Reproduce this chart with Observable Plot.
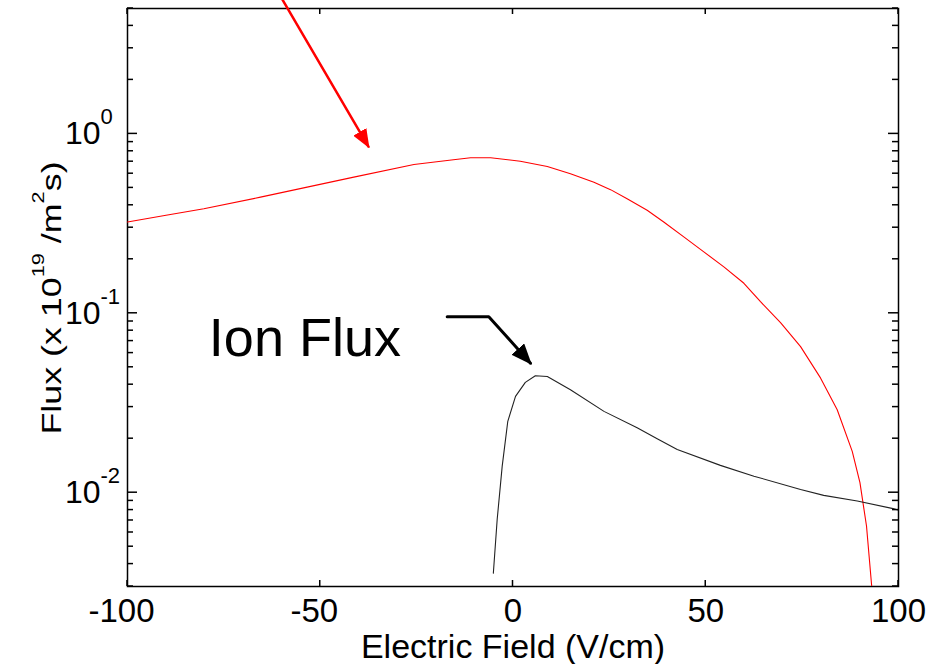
<!DOCTYPE html>
<html><head><meta charset="utf-8">
<script src="https://cdn.jsdelivr.net/npm/d3@7"></script>
<script src="https://cdn.jsdelivr.net/npm/@observablehq/plot@0.6"></script>
<style>html,body{margin:0;padding:0;background:#fff}#chart svg{display:block}</style>
</head><body><div id="chart"></div>
<script>
// Red curve (flux) vs electric field
const redField = [-100, -90, -80.2, -65.5, -53.4, -41.3, -25.7, -16, -11.0, -5.8, 1.9, 8.9, 14.9, 21.0, 25.3, 29.6, 34.8, 39.1, 44.3, 49.5, 54.7, 59.9, 64.2, 69.4, 74.6, 79.8, 84.1, 88.0, 90.0, 91.7, 93.0, 93.4];
const redFlux  = [0.323, 0.352, 0.383, 0.444, 0.505, 0.574, 0.675, 0.715, 0.736, 0.736, 0.704, 0.658, 0.600, 0.538, 0.489, 0.435, 0.375, 0.323, 0.2665, 0.220, 0.1815, 0.147, 0.116, 0.0887, 0.0652, 0.0435, 0.0290, 0.0170, 0.01137, 0.00652, 0.0031, 0.0025];
// Ion flux vs electric field
const ionField = [-5.1, -4.1, -2.8, -1.35, 0.65, 3.2, 5.8, 8.9, 14.9, 23.6, 32.2, 37.4, 42.6, 53.8, 62.5, 74.6, 80.6, 89.3, 98.6, 100];
const ionFlux  = [0.00356, 0.00711, 0.01406, 0.0250, 0.0344, 0.0412, 0.0449, 0.0444, 0.0375, 0.0284, 0.0230, 0.0200, 0.0174, 0.0142, 0.01236, 0.01043, 0.00966, 0.00898, 0.00815, 0.0080];
// Ticks
const xTicks = [-100, -50, 0, 50, 100];
const yMajor = [0.01, 0.1, 1];
const yMinor = [0.003, 0.004, 0.005, 0.006, 0.007, 0.008, 0.009, 0.02, 0.03, 0.04, 0.05, 0.06, 0.07, 0.08, 0.09, 0.2, 0.3, 0.4, 0.5, 0.6, 0.7, 0.8, 0.9, 2, 3, 4, 5];
// Annotations (data coordinates)
const redArrowX = [-61.1, -37.5];
const redArrowY = [6.25, 0.85];
const ionArrowX = [-17.07, -6.28, 4.54];
const ionArrowY = [0.0958, 0.0958, 0.0527];
const ionLabelX = [-78.9];
const ionLabelY = [0.0722];
const ionLabelText = ["Ion Flux"];
const xLabel = ["Electric Field (V/cm)"];

const red = redField.map((x, i) => ({x, y: redFlux[i]}));
const ion = ionField.map((x, i) => ({x, y: ionFlux[i]}));
const redArrow = redArrowX.map((x, i) => ({x, y: redArrowY[i]}));
const ionArrow = ionArrowX.map((x, i) => ({x, y: ionArrowY[i]}));
const ionLab = ionLabelX.map((x, i) => ({x, y: ionLabelY[i], text: ionLabelText[i]}));

const W = 929, H = 664, ML = 127, MR = 31, MT = 8, MB = 78;
const majorLen = 10, minorLen = 6, xLen = 6;

const svg = Plot.plot({
  width: W, height: H,
  marginLeft: ML, marginRight: MR, marginTop: MT, marginBottom: MB,
  style: {fontFamily: "'Liberation Sans', Arial, sans-serif", background: "white", color: "black"},
  x: {domain: [-100, 100], axis: null},
  y: {type: "log", domain: [0.003, 5], axis: null},
  marks: [
    Plot.frame({stroke: "black", fill: "none", strokeWidth: 1.5}),
    Plot.axisX(xTicks, {anchor: "bottom", tickSize: 0, tickPadding: 12, fontSize: 33, label: null, tickFormat: d => String(d)}),
    Plot.axisY(yMajor, {anchor: "left", tickSize: 0, tickPadding: 27, fontSize: 32, label: null,
      tickFormat: d => "10^" + Math.round(Math.log10(d))}),
    Plot.line(red, {x: "x", y: "y", stroke: "#ff0000", strokeWidth: 1.1, clip: true}),
    Plot.line(ion, {x: "x", y: "y", stroke: "#222", strokeWidth: 1.1, clip: true}),
    Plot.line(redArrow, {x: "x", y: "y", stroke: "#ff0000", strokeWidth: 2.5}),
    Plot.line(ionArrow, {x: "x", y: "y", stroke: "black", strokeWidth: 3, strokeLinejoin: "miter"}),
    Plot.text(ionLab, {x: "x", y: "y", text: "text", textAnchor: "start", lineAnchor: "middle", fontSize: 54, fill: "black"}),
    Plot.text(xLabel, {text: d => d, frameAnchor: "bottom", dy: 61, lineAnchor: "middle", fontSize: 34, fill: "black"})
  ]
});

const s = d3.select(svg);
const sx = svg.scale("x"), sy = svg.scale("y");
const frameTop = MT, frameBottom = H - MB, frameLeft = ML, frameRight = W - MR;
// inward ticks on all four sides, positioned through Plot's scales
const tg = s.append("g").attr("stroke", "black").attr("stroke-width", 1.5).attr("fill", "none");
for (const v of xTicks) {
  const px = sx.apply(v);
  tg.append("line").attr("x1", px).attr("x2", px).attr("y1", frameBottom).attr("y2", frameBottom - xLen);
  tg.append("line").attr("x1", px).attr("x2", px).attr("y1", frameTop).attr("y2", frameTop + xLen);
}
for (const [vals, len] of [[yMajor, majorLen], [yMinor, minorLen]]) {
  for (const v of vals) {
    const py = sy.apply(v);
    tg.append("line").attr("y1", py).attr("y2", py).attr("x1", frameLeft).attr("x2", frameLeft + len);
    tg.append("line").attr("y1", py).attr("y2", py).attr("x1", frameRight).attr("x2", frameRight - len);
  }
}
// superscript tick labels: base "10" right-aligned at the anchor, exponent after it
s.selectAll('g[aria-label="y-axis tick label"] text').each(function () {
  const t = d3.select(this);
  const str = t.text();
  if (!str.includes("^")) return;
  const [base, exp] = str.split("^");
  t.attr("text-anchor", "start").text("");
  t.append("tspan").attr("dx", -35.6).text(base);
  t.append("tspan").attr("dy", -20).attr("font-size", 22).text(exp);
});
// negative x labels sit slightly left, as in the original
s.selectAll('g[aria-label="x-axis tick label"] text').each(function () {
  const t = d3.select(this);
  if (t.text().startsWith("-")) t.attr("dx", -6);
});
// arrow heads
const defs = s.append("defs");
function head(id, color, len, wid) {
  defs.append("marker").attr("id", id)
    .attr("viewBox", `0 0 ${len} ${wid}`).attr("refX", len - 2).attr("refY", wid / 2)
    .attr("markerWidth", len).attr("markerHeight", wid)
    .attr("markerUnits", "userSpaceOnUse").attr("orient", "auto")
    .append("path").attr("d", `M0,0L${len},${wid / 2}L0,${wid}Z`).attr("fill", color);
}
head("redhead", "#ff0000", 19, 15);
head("blackhead", "black", 21, 17);
s.selectAll('g[stroke-width="2.5"] path').attr("marker-end", "url(#redhead)");
s.selectAll('g[stroke-width="3"] path').attr("marker-end", "url(#blackhead)");
// y axis title with superscripts
const yl = s.append("text")
  .attr("transform", "translate(61,298) rotate(-90) scale(1.28,1)")
  .attr("text-anchor", "middle").attr("font-size", 28).attr("fill", "black");
yl.append("tspan").text("Flux (x 10");
yl.append("tspan").attr("dy", -17).attr("font-size", 17).text("19");
yl.append("tspan").attr("dy", 17).text(" /m");
yl.append("tspan").attr("dy", -17).attr("font-size", 17).text("2");
yl.append("tspan").attr("dy", 17).text("s)");

document.getElementById("chart").append(svg);
</script>
</body></html>
